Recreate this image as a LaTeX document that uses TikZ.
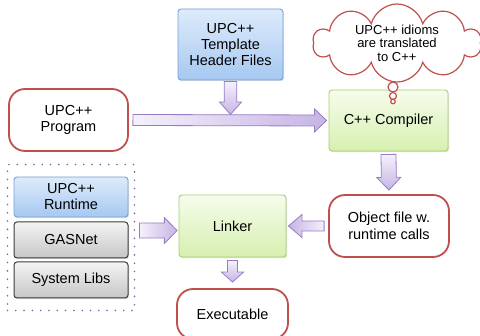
\documentclass[tikz,border=0pt]{standalone}
\usepackage{fontspec}
\setmainfont{Liberation Sans}
\usepackage{tikz}
\usetikzlibrary{fit,calc,shapes.symbols,shadows}
\definecolor{redline}{RGB}{192,80,77}
\definecolor{greentop}{RGB}{246,252,236}
\definecolor{greenbot}{RGB}{214,240,176}
\definecolor{greenline}{RGB}{168,208,110}
\definecolor{bluetop}{RGB}{222,235,251}
\definecolor{bluebot}{RGB}{166,200,241}
\definecolor{blueline}{RGB}{118,160,214}
\definecolor{graytop}{RGB}{244,244,244}
\definecolor{graybot}{RGB}{198,198,198}
\definecolor{grayline}{RGB}{60,60,60}
\definecolor{arrowlight}{RGB}{245,241,251}
\definecolor{arrowdark}{RGB}{198,180,228}
\definecolor{arrowline}{RGB}{150,125,196}
\definecolor{dots}{RGB}{128,100,162}
\tikzstyle{src} = [draw=redline, line width=1.8pt, fill=white, rounded corners=16pt, align=center, inner sep=0pt, font={\fontsize{14.5}{16.5}\selectfont}]
\tikzstyle{box} = [rounded corners=3pt, align=center, inner sep=0pt, font={\fontsize{14.5}{16}\selectfont}, drop shadow={opacity=0.25, shadow xshift=1pt, shadow yshift=-1.2pt}]
\tikzstyle{tool} = [draw=greenline, line width=0.9pt, top color=greentop, bottom color=greenbot]
\tikzstyle{upc} = [draw=blueline, line width=0.9pt, top color=bluetop, bottom color=bluebot]
\tikzstyle{syslib} = [draw=grayline, line width=1pt, top color=graytop, bottom color=graybot]
\tikzstyle{flow} = [draw=arrowline, line width=0.8pt, top color=arrowlight, bottom color=arrowdark]
\tikzstyle{thought} = [draw=redline, line width=1.2pt, fill=white]
% fat arrow: [shading angle] from, to, shaft half width, head half width, head length
\newcommand{\fatarrow}[6][]{%
  \coordinate (hb) at ($(#3)!#6!(#2)$);
  \draw[flow,#1] ($(#2)!#4!90:(#3)$) -- ($(hb)!#4!-90:(#2)$) -- ($(hb)!#5!-90:(#2)$) -- (#3)
    -- ($(hb)!#5!90:(#2)$) -- ($(hb)!#4!90:(#2)$) -- ($(#2)!#4!-90:(#3)$) -- cycle;}

\begin{document}
\begin{tikzpicture}[x=1pt,y=-1pt]
    \useasboundingbox (0,0) rectangle (480,336);
    \node[box,upc,minimum width=105pt,minimum height=71pt](hdr) at (230.5,44.5){UPC++\\Template\\Header Files};
    \node[src,minimum width=119pt,minimum height=62pt](prog) at (68.5,120){UPC++\\Program};
    \node[box,tool,minimum width=119pt,minimum height=61pt](cxx) at (388.5,120.5){C++ Compiler};
    \node[src,minimum width=120pt,minimum height=62pt](obj) at (389,226){Object file w.\\runtime calls};
    \node[box,tool,minimum width=107pt,minimum height=62pt](link) at (232.5,226){Linker};
    \node[src,minimum width=111pt,minimum height=50pt](exe) at (232.5,314){Executable};
    \node[box,upc,minimum width=114pt,minimum height=40pt](rt) at (71,197){UPC++\\Runtime};
    \node[box,syslib,minimum width=114pt,minimum height=36pt](gas) at (71,240){GASNet};
    \node[box,syslib,minimum width=114pt,minimum height=36pt](sys) at (71,280){System Libs};
    \node[draw=dots,line width=1.8pt,line cap=round,dash pattern=on 0pt off 8.3pt,inner xsep=6pt,inner ysep=12pt,fit=(rt)(gas)(sys)](libs){};
    % thought cloud
    \node[thought,cloud,cloud puffs=10,cloud ignores aspect,minimum width=168pt,minimum height=78pt,align=center,inner sep=0pt,font={\fontsize{13}{13.5}\selectfont}](idea) at (397,43){UPC++ idioms\\are translated\\to C++};
    \node[thought,circle,minimum size=10pt,inner sep=0pt](b1) at (393,87){};
    \node[thought,circle,minimum size=7pt,inner sep=0pt](b2) at (393,96){};
    \node[thought,circle,minimum size=4.6pt,inner sep=0pt](b3) at (393,101.5){};
    % arrows
    \coordinate[yshift=5.5pt](join) at (hdr.south |- prog.east);
    \coordinate[xshift=4pt,yshift=-4.5pt](libout) at (libs.east |- link.west);
    \fatarrow[shading angle=90]{[xshift=4pt]prog.east}{[xshift=-2pt]cxx.west}{5.5pt}{11.5pt}{12pt}
    \fatarrow{[yshift=-1pt]hdr.south}{join}{6.3pt}{11pt}{12.5pt}
    \fatarrow{[yshift=-3pt]cxx.south}{[yshift=4pt]obj.north}{7.5pt}{12pt}{12.7pt}
    \fatarrow[shading angle=-90]{[xshift=-4pt]obj.west}{[xshift=2pt]link.east}{5pt}{11.5pt}{13.5pt}
    \fatarrow[shading angle=90]{libout}{[xshift=-1.5pt,yshift=-4.5pt]link.west}{7.5pt}{13pt}{12.7pt}
    \fatarrow{[yshift=-3pt]link.south}{[yshift=6pt]exe.north}{5pt}{11pt}{10pt}
  \end{tikzpicture}
\end{document}
